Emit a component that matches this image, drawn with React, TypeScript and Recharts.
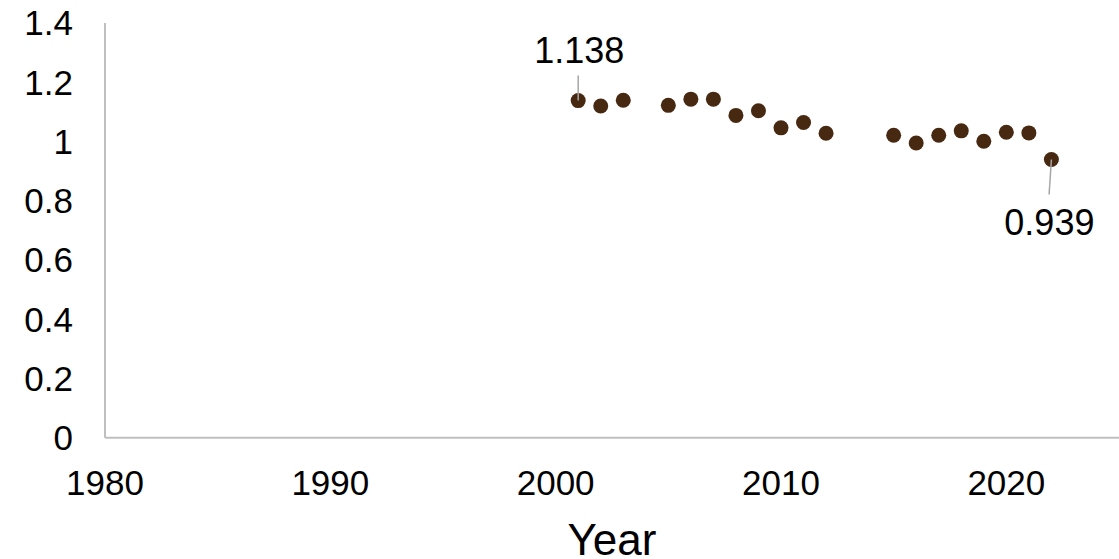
import React from "react";
import { ScatterChart, Scatter, XAxis, YAxis } from "recharts";

// Annual ratio series, 2001–2022 (no observations for 2004, 2013, 2014)
const years = [2001, 2002, 2003, 2005, 2006, 2007, 2008, 2009, 2010, 2011, 2012, 2015, 2016, 2017, 2018, 2019, 2020, 2021, 2022];
const ratios = [1.138, 1.12, 1.139, 1.122, 1.143, 1.143, 1.088, 1.104, 1.046, 1.064, 1.028, 1.021, 0.995, 1.021, 1.036, 1.001, 1.031, 1.029, 0.939];

const xTicks = [1980, 1990, 2000, 2010, 2020];
const yTicks = [0, 0.2, 0.4, 0.6, 0.8, 1, 1.2, 1.4];

const data = years.map((year, i) => ({ year, ratio: ratios[i] }));
const firstYear = years[0];
const lastYear = years[years.length - 1];

const FONT = "'Liberation Sans', Arial, sans-serif";
const DOT = "#472811";
const AXIS = "#bfbfbf";
const LEADER = "#a6a6a6";

// Dot renderer; the first and last observations get a value callout with a leader line
const DotShape = (props: any) => {
  const { cx, cy, payload } = props;
  const isFirst = payload.year === firstYear;
  const isLast = payload.year === lastYear;
  return (
    <g>
      <circle cx={cx} cy={cy} r={7.5} fill={DOT} />
      {isFirst && (
        <g>
          <line x1={cx} y1={cy} x2={cx} y2={cy - 25} stroke={LEADER} strokeWidth={1.5} />
          <text x={cx + 1} y={cy - 37.5} textAnchor="middle" fontFamily={FONT} fontSize={36} fill="#000">
            {payload.ratio.toFixed(3)}
          </text>
        </g>
      )}
      {isLast && (
        <g>
          <line x1={cx} y1={cy} x2={cx - 2.3} y2={cy + 35} stroke={LEADER} strokeWidth={1.5} />
          <text x={cx - 2} y={cy + 75} textAnchor="middle" fontFamily={FONT} fontSize={36} fill="#000">
            {payload.ratio.toFixed(3)}
          </text>
        </g>
      )}
    </g>
  );
};

export default function App() {
  return (
    <div style={{ position: "absolute", left: 0, top: 0, background: "#fff" }}>
      <ScatterChart width={1119} height={559} margin={{ top: 23, right: 0, bottom: 0, left: 0 }}>
        <XAxis
          type="number"
          dataKey="year"
          domain={[1980, 2025]}
          ticks={xTicks}
          allowDataOverflow
          height={121.3}
          axisLine={{ stroke: AXIS, strokeWidth: 2 }}
          tickLine={false}
          tickMargin={26}
          tick={{ fill: "#000", fontSize: 35, fontFamily: FONT }}
          label={{ value: "Year", position: "insideBottom", offset: 4, fill: "#000", fontSize: 44, fontFamily: FONT }}
        />
        <YAxis
          type="number"
          dataKey="ratio"
          domain={[0, 1.4]}
          ticks={yTicks}
          width={105}
          axisLine={{ stroke: AXIS, strokeWidth: 2 }}
          tickLine={false}
          tickMargin={26}
          tickFormatter={(v: number) => String(Math.round(v * 10) / 10)}
          tick={{ fill: "#000", fontSize: 35, fontFamily: FONT }}
        />
        <Scatter data={data} shape={<DotShape />} isAnimationActive={false} />
      </ScatterChart>
    </div>
  );
}
